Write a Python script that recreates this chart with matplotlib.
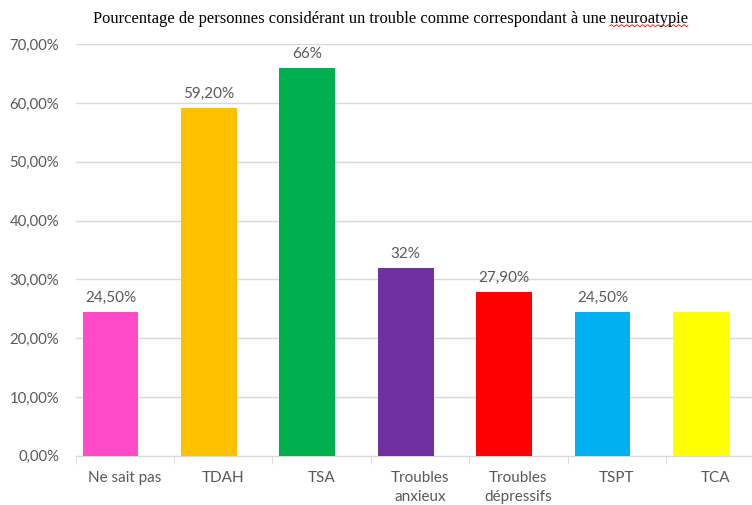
import matplotlib
matplotlib.use('Agg')
import matplotlib.pyplot as plt
import numpy as np
from matplotlib.ticker import FuncFormatter

categories = ['Ne sait pas', 'TDAH', 'TSA', 'Troubles\nanxieux', 'Troubles\ndépressifs', 'TSPT', 'TCA']
values = [24.5, 59.2, 66, 32, 27.9, 24.5, 24.5]
labels = ['24,50%', '59,20%', '66%', '32%', '27,90%', '24,50%', '']
colors = ['#FF4BC8', '#FFC000', '#00B050', '#7030A0', '#FF0000', '#00B0F0', '#FFFF00']
title = 'Pourcentage de personnes considérant un trouble comme correspondant à une neuroatypie'

plt.rcParams['font.family'] = ['Lato', 'DejaVu Sans']
grey = '#595959'

fig = plt.figure(figsize=(7.52, 5.05), dpi=100)
ax = fig.add_axes([0.1007, 0.0976, 0.9157, 0.8147])

x = np.arange(len(categories))
bars = ax.bar(x - 0.146, values, width=0.566, color=colors, zorder=3)
for b, lab in zip(bars, labels):
    if lab:
        ax.annotate(lab, (b.get_x() + b.get_width() / 2, b.get_height()),
                    xytext=(0, 5), textcoords='offset points',
                    ha='center', va='bottom', fontsize=11, color=grey)

ax.set_xlim(-0.5, len(categories) - 0.5)
ax.set_ylim(0, 70)
ax.set_yticks(np.arange(0, 71, 10))
ax.yaxis.set_major_formatter(FuncFormatter(lambda v, p: f'{v:.2f}%'.replace('.', ',')))
ax.grid(axis='y', color='#D9D9D9', lw=1, zorder=0)
ax.tick_params(axis='y', length=0, labelsize=10.7, labelcolor=grey, pad=12)

ax.set_xticks(x)
ax.set_xticklabels(categories, fontsize=11, color=grey, linespacing=1.5)
ax.set_xticks(np.arange(-0.5, len(categories)), minor=True)
ax.tick_params(axis='x', which='major', length=0, pad=11)
ax.tick_params(axis='x', which='minor', length=6, color='#D9D9D9', direction='out')

for s in ['left', 'right', 'top']:
    ax.spines[s].set_visible(False)
ax.spines['bottom'].set_color('#D9D9D9')

t = fig.text(0.519, 0.963, title, ha='center', va='center',
             family='Liberation Serif', fontsize=11.9, color='black')

# red spell-check squiggle under the last word
fig.canvas.draw()
r = fig.canvas.get_renderer()
bb = t.get_window_extent(r)
w = fig.text(0, 0, 'neuroatypie', family='Liberation Serif', fontsize=11.9)
ww = w.get_window_extent(r).width
w.remove()
xs = np.linspace(bb.x1 - ww, bb.x1, 60)
ys = bb.y0 + 1 + 1.0 * np.sin(np.linspace(0, 30 * np.pi, 60))
fig.add_artist(plt.Line2D(xs / fig.bbox.width, ys / fig.bbox.height,
                          color='red', lw=0.6, transform=fig.transFigure))

fig.savefig('out.png', dpi=100, facecolor='white')
